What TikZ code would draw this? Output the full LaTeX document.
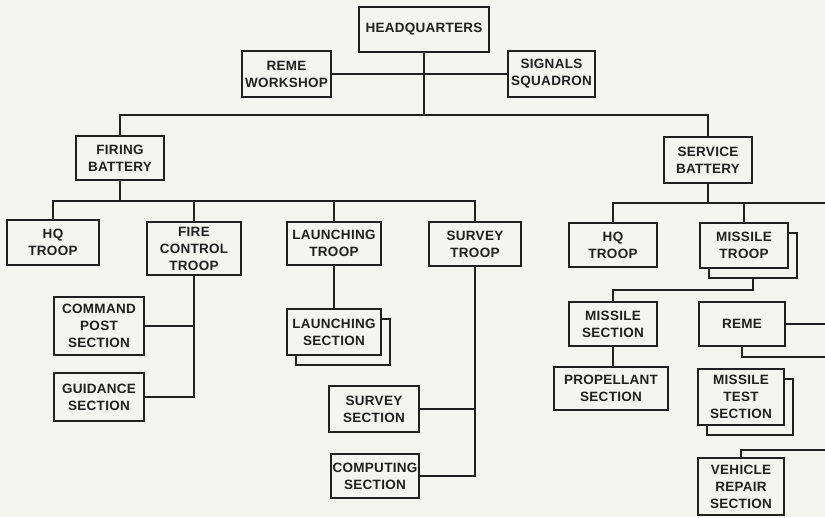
\documentclass[tikz,border=0pt]{standalone}
\usepackage{fontspec}
\setmainfont{Liberation Sans}
\newfontfamily\chartfont{Liberation Sans}[LetterSpace=2]
\usetikzlibrary{shadows}
\definecolor{paper}{RGB}{244,244,241}
\definecolor{ink}{RGB}{32,32,32}

\tikzset{
  unit/.style={draw=ink, line width=2pt, fill=paper, text=ink, font=\chartfont\bfseries\fontsize{13.5}{17}\selectfont, align=center, inner sep=0pt},
  pair/.style={unit, copy shadow={shadow xshift=9pt, shadow yshift=-10pt}},
  link/.style={draw=ink, line width=2pt}
}

\begin{document}
\begin{tikzpicture}[x=1pt, y=-1pt]
% Paper
\fill[paper] (0,0) rectangle (825,517);
\useasboundingbox (0,0) rectangle (825,517);

% Headquarters level
\node[unit, minimum width=130pt, minimum height=45pt] (hq) at (424, 29.5) {HEADQUARTERS};
\node[unit, minimum width=89pt, minimum height=46pt] (rws) at (286.5, 74) {REME\\WORKSHOP};
\node[unit, minimum width=87pt, minimum height=46pt] (sig) at (551.5, 74) {SIGNALS\\SQUADRON};

% Batteries
\node[unit, minimum width=88pt, minimum height=44pt] (fb) at (120, 158) {FIRING\\BATTERY};
\node[unit, minimum width=88pt, minimum height=46pt] (sb) at (708, 160) {SERVICE\\BATTERY};

% Firing battery troops
\node[unit, minimum width=92pt, minimum height=45pt] (fhq) at (53, 242.5) {HQ\\TROOP};
\node[unit, minimum width=94pt, minimum height=53pt] (fct) at (194, 248.5) {FIRE\\CONTROL\\TROOP};
\node[unit, minimum width=94pt, minimum height=43pt] (lt) at (334, 243.5) {LAUNCHING\\TROOP};
\node[unit, minimum width=92pt, minimum height=44pt] (st) at (475, 244) {SURVEY\\TROOP};

% Service battery troops
\node[unit, minimum width=88pt, minimum height=44pt] (shq) at (613, 245) {HQ\\TROOP};
\node[pair, minimum width=88pt, minimum height=45pt] (mt) at (744, 245.5) {MISSILE\\TROOP};

% Sections under the firing battery
\node[unit, minimum width=90pt, minimum height=58pt] (cps) at (99, 326) {COMMAND\\POST\\SECTION};
\node[unit, minimum width=90pt, minimum height=48pt] (gs) at (99, 397) {GUIDANCE\\SECTION};
\node[pair, minimum width=94pt, minimum height=46pt] (ls) at (334, 332) {LAUNCHING\\SECTION};
\node[unit, minimum width=90pt, minimum height=46pt] (svs) at (374, 409) {SURVEY\\SECTION};
\node[unit, minimum width=88pt, minimum height=44pt] (cs) at (375, 476) {COMPUTING\\SECTION};

% Sections under the service battery
\node[unit, minimum width=88pt, minimum height=44pt] (ms) at (613, 324) {MISSILE\\SECTION};
\node[unit, minimum width=114pt, minimum height=43pt] (ps) at (611, 388.5) {PROPELLANT\\SECTION};
\node[unit, minimum width=86pt, minimum height=44pt] (reme) at (742, 324) {REME};
\node[pair, minimum width=86pt, minimum height=56pt] (mts) at (741, 397) {MISSILE\\TEST\\SECTION};
\node[unit, minimum width=86pt, minimum height=57pt] (vrs) at (741, 486.5) {VEHICLE\\REPAIR\\SECTION};

% Buses
\coordinate (hqbus) at (424, 115);
\coordinate (fbus) at (120, 201);
\coordinate (sbus) at (825, 203);
\coordinate (remeout) at (825, 324);
\coordinate (remefoot) at (825, 357);
\coordinate (vrsfeed) at (825, 450);

% Headquarters links
\draw[link] (hq.south) -- (hqbus);
\draw[link] (rws) -- (sig);
\draw[link] (fb.north) |- (hqbus) -| (sb.north);

% Firing battery links
\draw[link] (fb.south) -- (fbus);
\draw[link] (fhq.north) |- (fbus);
\draw[link] (st.north) |- (fbus);
\draw[link] (fct.north) -- (fct.north |- fbus);
\draw[link] (lt.north) -- (lt.north |- fbus);
\draw[link] (fct.south) |- (gs.east);
\draw[link] (cps.east) -- (cps.east -| fct.south);
\draw[link] (lt.south) -- (ls.north);
\draw[link] (st.south) |- (cs.east);
\draw[link] (svs.east) -- (svs.east -| st.south);

% Service battery links
\draw[link] (sb.south) -- (sb.south |- sbus);
\draw[link] (shq.north) |- (sbus);
\draw[link] (mt.north) -- (mt.north |- sbus);
\draw[link] ([xshift=9pt, yshift=-10pt]mt.south) -- ++(0,11) -| (ms.north);
\draw[link] (ms.south) -- (ms.south |- ps.north);
\draw[link] (reme) -- (remeout);
\draw[link] (reme.south) |- (remefoot);
\draw[link] (vrsfeed) -| (vrs.north);
\end{tikzpicture}
\end{document}
